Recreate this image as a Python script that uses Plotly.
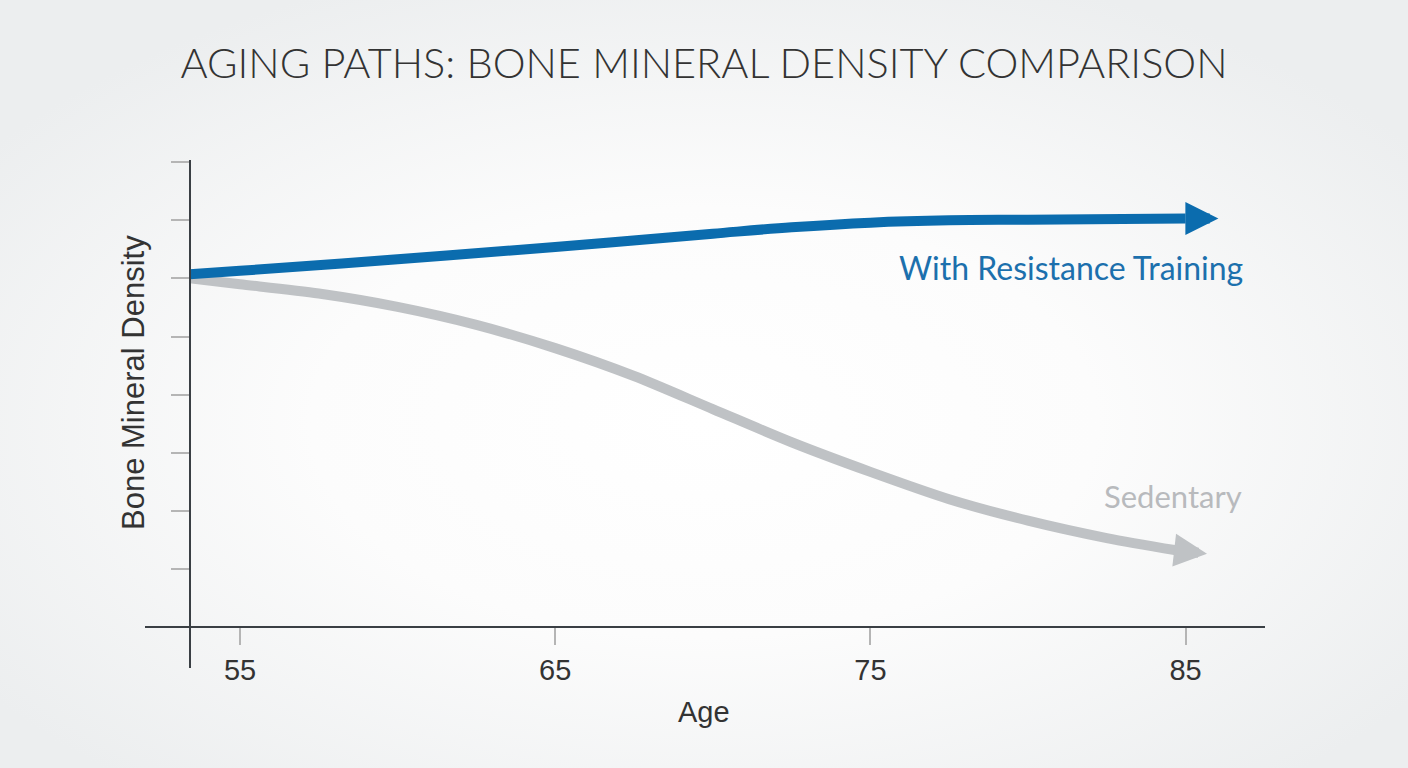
import base64
import plotly.graph_objects as go

# ---- data ----
age_training = [53.41, 55, 60, 65, 70, 72.5, 75, 77.5, 80, 85, 86.04]
bmd_training = [6.07, 6.13, 6.33, 6.54, 6.77, 6.88, 6.96, 7.00, 7.01, 7.03, 7.03]

age_sedentary = [53.41, 55, 57.5, 60, 62.5, 65, 67.5, 70, 72.5, 75, 77.5, 80, 82.5, 84.7, 85.68]
bmd_sedentary = [6.00, 5.90, 5.74, 5.51, 5.20, 4.80, 4.32, 3.75, 3.18, 2.67, 2.20, 1.83, 1.53, 1.32, 1.26]

x_ticks = [55, 65, 75, 85]
y_ticks = [1, 2, 3, 4, 5, 6, 7, 8]

title_text = "AGING PATHS: BONE MINERAL DENSITY COMPARISON"
x_title = "Age"
y_title = "Bone Mineral Density"
label_training = "With Resistance Training"
label_sedentary = "Sedentary"

BLUE = "#0b6cae"
BLUE_TXT = "#1c70ad"
GRAY = "#bfc2c5"
GRAY_TXT = "#b8babd"
DARK = "#333333"

# ---- background radial gradient ----
svg = (
    "<svg xmlns='http://www.w3.org/2000/svg' width='1408' height='768'>"
    "<defs><radialGradient id='g' cx='0.5' cy='0.55' r='0.62'>"
    "<stop offset='0' stop-color='#ffffff'/>"
    "<stop offset='0.45' stop-color='#fcfcfc'/>"
    "<stop offset='1' stop-color='#eceeef'/>"
    "</radialGradient></defs>"
    "<rect width='1408' height='768' fill='url(#g)'/></svg>"
)
bg_uri = "data:image/svg+xml;base64," + base64.b64encode(svg.encode()).decode()

fig = go.Figure()

fig.add_trace(go.Scatter(
    x=age_sedentary[:-1], y=bmd_sedentary[:-1], mode="lines",
    line=dict(color=GRAY, width=10, shape="spline", smoothing=0.8),
    hoverinfo="skip", showlegend=False,
))
fig.add_trace(go.Scatter(
    x=age_training[:-1], y=bmd_training[:-1], mode="lines",
    line=dict(color=BLUE, width=10, shape="spline", smoothing=1.0),
    hoverinfo="skip", showlegend=False,
))

# arrow heads
for xs, ys, col in [(age_sedentary, bmd_sedentary, GRAY), (age_training, bmd_training, BLUE)]:
    fig.add_annotation(
        x=xs[-1], y=ys[-1], ax=xs[-2], ay=ys[-2],
        xref="x", yref="y", axref="x", ayref="y",
        text="", showarrow=True, arrowhead=2, arrowsize=0.66,
        arrowwidth=10, arrowcolor=col,
    )

W, H = 1408, 768
ML, MR, MT, MB = 145, 143, 160, 100
PW, PH = W - ML - MR, H - MT - MB


def px(x):
    return (x - ML) / PW


def py(y):
    return (H - MB - y) / PH


# axis titles and series labels
fig.add_annotation(text=x_title, x=px(704), y=py(712), xref="paper", yref="paper",
                   showarrow=False, xanchor="center", yanchor="middle",
                   font=dict(family="Liberation Sans", size=29, color=DARK))
fig.add_annotation(text=y_title, x=px(133), y=py(383), xref="paper", yref="paper",
                   showarrow=False, xanchor="center", yanchor="middle", textangle=-90,
                   font=dict(family="Liberation Sans", size=31, color=DARK))
fig.add_annotation(text=label_training, x=px(1245), y=py(267), xref="paper", yref="paper",
                   showarrow=False, xanchor="right", yanchor="middle",
                   font=dict(family="Lato", size=32, color=BLUE_TXT))
fig.add_annotation(text=label_sedentary, x=px(1244), y=py(496), xref="paper", yref="paper",
                   showarrow=False, xanchor="right", yanchor="middle",
                   font=dict(family="Lato", size=31, color=GRAY_TXT))

fig.add_layout_image(dict(
    source=bg_uri, xref="paper", yref="paper",
    x=-ML / PW, y=1 + MT / PH, sizex=W / PW, sizey=H / PH,
    xanchor="left", yanchor="top", sizing="stretch", layer="below",
))

fig.update_layout(
    width=W, height=H,
    margin=dict(l=ML, r=MR, t=MT, b=MB),
    paper_bgcolor="#f1f2f3",
    plot_bgcolor="rgba(0,0,0,0)",
    title=dict(text=title_text, x=704 / W, y=1 - 63 / H, xref="container", yref="container",
               xanchor="center", yanchor="middle",
               font=dict(family="Lato", size=41.5, color="#333333", weight=300)),
    xaxis=dict(
        range=[51.986, 87.52], anchor="free", position=(668 - 627) / PH,
        showline=True, linecolor="#3a3f44", linewidth=2,
        ticks="outside", ticklen=17, tickwidth=1.5, tickcolor="#b5b5b5",
        tickvals=x_ticks, ticktext=[str(v) for v in x_ticks],
        tickfont=dict(family="Liberation Sans", size=29, color=DARK),
        showgrid=False, zeroline=False,
    ),
    yaxis=dict(
        range=[-0.706, 8.038], anchor="free", position=(190 - ML) / PW,
        showline=True, linecolor="#3a3f44", linewidth=2,
        ticks="outside", ticklen=18, tickwidth=1.5, tickcolor="#b5b5b5",
        tickvals=y_ticks, showticklabels=False,
        showgrid=False, zeroline=False,
    ),
    showlegend=False,
)

fig.write_html("out.html")
